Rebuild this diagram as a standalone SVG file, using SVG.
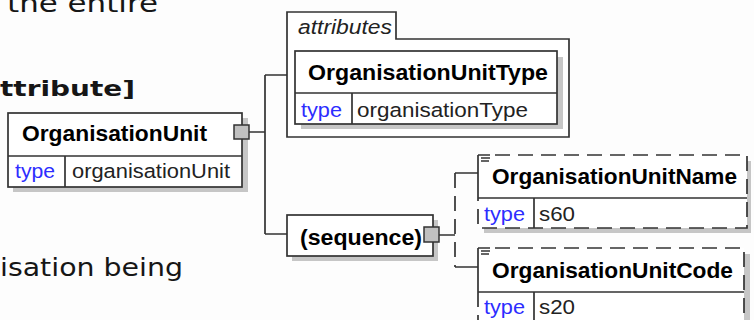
<svg xmlns="http://www.w3.org/2000/svg" width="754" height="320" viewBox="0 0 754 320">
<style>
.bg{font-family:"DejaVu Sans",Verdana,sans-serif;fill:#161616}
.nm{font-family:"Liberation Sans",Arial,sans-serif;font-weight:bold;font-size:22.5px;fill:#000}
.tp{font-family:"Liberation Sans",Arial,sans-serif;font-size:20.5px;fill:#2d2dff}
.vl{font-family:"Liberation Sans",Arial,sans-serif;font-size:20.5px;fill:#222}
.it{font-family:"Liberation Sans",Arial,sans-serif;font-style:italic;font-size:20px;fill:#222}
.box{fill:#fff;stroke:#333;stroke-width:1.7}
.ln{fill:none;stroke:#333;stroke-width:1.7}
.dash{fill:none;stroke:#333;stroke-width:1.7;stroke-dasharray:15,8}
.sh{fill:#c6c6c6}
.exp{fill:#c0c0c0;stroke:#333;stroke-width:1.5}
</style>
<rect width="754" height="320" fill="#fdfdfd"/>
<g id="background-text">
<text class="bg" x="7" y="11.5" font-size="25" textLength="151" lengthAdjust="spacingAndGlyphs">the entire</text>
<text class="bg" x="0" y="96" font-size="22" font-weight="bold" textLength="135" lengthAdjust="spacingAndGlyphs">ttribute]</text>
<text class="bg" x="0" y="276" font-size="25" textLength="183" lengthAdjust="spacingAndGlyphs">isation being</text>
</g>
<g id="connectors">
<path class="ln" d="M249,132 H265 M265,75 V234 M265,75 H287 M265,234 H287"/>
<path class="ln" d="M439,235 H455 M455,173 H478 M455,267 H478"/>
<path class="dash" d="M455,173 V267" stroke-dasharray="18,4"/>
</g>
<g id="OrganisationUnit">
<rect class="sh" x="13" y="118" width="235" height="74"/>
<rect class="box" x="8" y="113" width="234" height="74"/>
<path class="ln" d="M8,156 H242 M65,156 V187"/>
<text class="nm" x="22" y="141" textLength="185" lengthAdjust="spacingAndGlyphs">OrganisationUnit</text>
<text class="tp" x="15" y="178" textLength="40" lengthAdjust="spacingAndGlyphs">type</text>
<text class="vl" x="72" y="178" textLength="158" lengthAdjust="spacingAndGlyphs">organisationUnit</text>
<rect class="exp" x="234" y="125" width="15" height="14"/>
</g>
<g id="attributes">
<path class="box" d="M287,12 H396 V39 H569 V137 H287 Z"/>
<text class="it" x="298" y="34" textLength="94" lengthAdjust="spacingAndGlyphs">attributes</text>
</g>
<g id="OrganisationUnitType">
<rect class="sh" x="301" y="57" width="262" height="72"/>
<rect class="box" x="295" y="51" width="262" height="73"/>
<path class="ln" d="M295,93 H557 M352,93 V124"/>
<text class="nm" x="308" y="80" textLength="240" lengthAdjust="spacingAndGlyphs">OrganisationUnitType</text>
<text class="tp" x="301" y="117" textLength="41" lengthAdjust="spacingAndGlyphs">type</text>
<text class="vl" x="357" y="117" textLength="171" lengthAdjust="spacingAndGlyphs">organisationType</text>
</g>
<g id="sequence">
<rect class="sh" x="292" y="220" width="146" height="41"/>
<rect class="box" x="287" y="215" width="146" height="41"/>
<text class="nm" x="300" y="245" textLength="122" lengthAdjust="spacingAndGlyphs">(sequence)</text>
<rect class="exp" x="424" y="227" width="15" height="15"/>
</g>
<g id="OrganisationUnitName">
<rect class="sh" x="484" y="161" width="267" height="72"/>
<rect x="478" y="155" width="269" height="73" fill="#fff"/>
<path class="dash" d="M495,155 H747 V228 H478 V198"/>
<path class="ln" d="M478,155 V198 M478,155 H490 M481,158 H490 M481,161 H489 M478,198 H747 M534,198 V228"/>
<text class="nm" x="492" y="184" textLength="245" lengthAdjust="spacingAndGlyphs">OrganisationUnitName</text>
<text class="tp" x="484" y="221" textLength="41" lengthAdjust="spacingAndGlyphs">type</text>
<text class="vl" x="539" y="221" textLength="36" lengthAdjust="spacingAndGlyphs">s60</text>
</g>
<g id="OrganisationUnitCode">
<rect class="sh" x="484" y="254" width="266" height="80"/>
<rect x="478" y="248" width="266" height="80" fill="#fff"/>
<path class="dash" d="M495,248 H744 V330 M478,292 V330"/>
<path class="ln" d="M478,248 V292 M478,248 H490 M481,251 H490 M481,254 H489 M478,292 H744 M534,292 V330"/>
<text class="nm" x="492" y="278" textLength="241" lengthAdjust="spacingAndGlyphs">OrganisationUnitCode</text>
<text class="tp" x="484" y="314" textLength="41" lengthAdjust="spacingAndGlyphs">type</text>
<text class="vl" x="539" y="314" textLength="36" lengthAdjust="spacingAndGlyphs">s20</text>
</g>
</svg>
